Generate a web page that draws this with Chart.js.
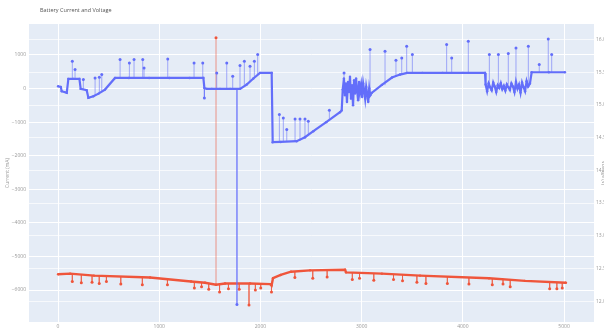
<!DOCTYPE html>
<html>
<head>
<meta charset="utf-8">
<script src="https://cdn.jsdelivr.net/npm/chart.js@4.4.1/dist/chart.umd.min.js"></script>
<style>
  html, body { margin: 0; padding: 0; background: #fff; }
  #wrap { width: 604px; height: 331px; }
</style>
</head>
<body>
<div id="wrap"><canvas id="batteryChart"></canvas></div>
<script>
// current trace (s, mA)
var currentTimes = [0, 27, 36, 86, 102, 150, 211, 224, 283, 300, 349, 400, 464, 563, 700, 900, 1100, 1300, 1436,
    1446, 1470, 1520, 1600, 1700, 1798, 1864, 1930, 1996, 2111, 2121, 2200, 2358, 2440, 2523, 2650, 2786, 2803,
    2813, 2825, 2835, 2845, 2855, 2865, 2875, 2885, 2895, 2905, 2915, 2925, 2935, 2945, 2955, 2965, 2975, 2985,
    2995, 3005, 3015, 3025, 3035, 3045, 3055, 3065, 3075, 3085, 3099, 3200, 3300, 3379, 3450, 3600, 3800, 4000,
    4219, 4225, 4240, 4255, 4270, 4285, 4300, 4315, 4330, 4345, 4360, 4375, 4390, 4405, 4420, 4435, 4450, 4465,
    4480, 4495, 4510, 4525, 4540, 4555, 4570, 4585, 4600, 4615, 4630, 4645, 4663, 4680, 4850, 5009];
var currentValues = [68, 50, -80, -129, 288, 288, 288, -10, -50, -278, -228, -150, -30, 317, 317, 317, 317, 317, 317,
    20, -10, -10, -10, -10, -10, 119, 300, 466, 466, -1597, -1590, -1567, -1450, -1270, -1000, -704, -650,
    -30, 300, -200, 150, -400, 200, -100, 350, -300, 100, -500, 250, -150, 300, -50, -350, 200, -100,
    100, -250, 150, -50, -300, 50, -150, -400, 0, -200, -129, 110, 330, 417, 466, 466, 466, 466,
    466, 119, -80, 150, 40, -50, 180, 60, -100, 100, 20, 160, -20, 80, -60, 120, 40, -40,
    150, 60, -100, 200, 0, 120, -120, 180, 40, -80, 220, 60, 150, 486, 486, 486];

// current spikes: time, level before spike, spike tip
var currentSpikeTimes = [141, 168, 250, 366, 408, 432, 613, 705, 751, 837, 850, 1084, 1344, 1430, 1446, 1568, 1667,
    1726, 1768, 1798, 1841, 1897, 1940, 1973, 2187, 2226, 2260, 2342, 2391, 2440, 2473, 2681, 2826, 3083, 3231,
    3339, 3396, 3445, 3501, 3840, 3890, 4054, 4262, 4351, 4449, 4525, 4647, 4755, 4844, 4878];
var currentSpikeBase = [288, 288, -10, -200, -120, -80, 317, 317, 317, 317, 317, 317, 317, 317, 20, -10, -10,
    -10, -10, -10, 60, 200, 320, 430, -1597, -1590, -1585, -1570, -1560, -1500, -1400, -900, -30, -100, 100,
    350, 440, 466, 466, 466, 466, 466, 119, 119, 119, 119, 119, 486, 486, 486];
var currentSpikeTip = [813, 565, 268, 317, 336, 417, 863, 765, 863, 863, 616, 884, 765, 765, -278, 466, 765,
    366, -6428, 684, 813, 664, 813, 1012, -774, -873, -1220, -903, -903, -903, -972, -645, 466, 1160, 1111,
    843, 913, 1260, 1012, 1309, 913, 1408, 1012, 1012, 1042, 1210, 1260, 714, 1478, 1012];

// voltage trace (s, V)
var voltageTimes = [0, 119, 356, 909, 1314, 1452, 1561, 1650, 1897, 2095, 2110, 2124, 2200, 2302, 2490, 2836,
    2846, 3200, 3577, 4258, 4614, 5019];
var voltageValues = [12.41, 12.42, 12.39, 12.36, 12.30, 12.28, 12.25, 12.27, 12.27, 12.26, 12.24, 12.35, 12.40,
    12.45, 12.47, 12.48, 12.44, 12.42, 12.39, 12.35, 12.31, 12.28];

var voltageSpikeTimes = [141, 230, 336, 407, 478, 620, 833, 1081, 1347, 1418, 1489, 1561, 1596, 1684, 1790, 1887,
    1950, 2003, 2109, 2340, 2517, 2659, 2908, 2979, 3120, 3315, 3404, 3546, 3635, 3847, 4060, 4291, 4397, 4468,
    4858, 4929, 4982];
var voltageSpikeBase = [12.41, 12.40, 12.39, 12.39, 12.38, 12.37, 12.36, 12.34, 12.30, 12.29, 12.27, 12.25, 12.26,
    12.27, 12.27, 12.27, 12.27, 12.27, 12.25, 12.46, 12.47, 12.48, 12.44, 12.44, 12.43, 12.41, 12.40, 12.39, 12.39,
    12.37, 12.36, 12.35, 12.34, 12.33, 12.29, 12.29, 12.28];
var voltageSpikeTip = [12.30, 12.28, 12.29, 12.27, 12.30, 12.26, 12.25, 12.25, 12.20, 12.22, 12.18, 16.03, 12.14,
    12.19, 12.18, 11.94, 12.17, 12.20, 12.14, 12.36, 12.35, 12.37, 12.33, 12.35, 12.32, 12.33, 12.31, 12.29, 12.27,
    12.27, 12.26, 12.25, 12.26, 12.22, 12.19, 12.19, 12.20];

var blue = "#636efa";
var red = "#EF553B";

function toPoints(xs, ys) {
    var pts = [];
    for (var i = 0; i < xs.length; i++) pts.push({x: xs[i], y: ys[i]});
    return pts;
}

function toSpikes(xs, base, tip) {
    var pts = [];
    for (var i = 0; i < xs.length; i++) {
        pts.push({x: xs[i], y: base[i]});
        pts.push({x: xs[i], y: tip[i], tip: true});
        pts.push({x: xs[i], y: null});
    }
    return pts;
}

function tipRadius(ctx) {
    return ctx.raw && ctx.raw.tip ? 1.5 : 0;
}

function minusSign(v) {
    return String(v).replace("-", "\u2212");
}

var tickFont = {family: "'Open Sans', sans-serif", size: 5};

// plot background, title and right axis title
var plotBackground = {
    id: "plotBackground",
    beforeDraw: function (chart) {
        var a = chart.chartArea;
        var c = chart.ctx;
        c.save();
        c.fillStyle = "#E5ECF6";
        c.fillRect(a.left, a.top, a.right - a.left, a.bottom - a.top);
        c.restore();
    },
    afterDraw: function (chart) {
        var a = chart.chartArea;
        var c = chart.ctx;
        c.save();
        c.fillStyle = "#555";
        c.font = "5.5px 'Open Sans', sans-serif";
        c.textBaseline = "middle";
        c.fillText("Battery Current and Voltage", 40, 10);
        c.fillStyle = "#999";
        c.font = "5px 'Open Sans', sans-serif";
        c.translate(603.5, (a.top + a.bottom) / 2);
        c.rotate(Math.PI / 2);
        c.textAlign = "center";
        c.fillText("Voltage (V)", 0, 0);
        c.restore();
    }
};

new Chart(document.getElementById("batteryChart").getContext("2d"), {
    type: "line",
    data: {
        datasets: [{
            label: "Current",
            data: toPoints(currentTimes, currentValues),
            yAxisID: "y",
            borderColor: blue,
            backgroundColor: blue,
            borderWidth: 2.2,
            pointRadius: 1.2,
            pointBorderWidth: 0,
            tension: 0
        }, {
            label: "Current spikes",
            data: toSpikes(currentSpikeTimes, currentSpikeBase, currentSpikeTip),
            yAxisID: "y",
            borderColor: "rgba(99,110,250,0.7)",
            backgroundColor: blue,
            borderWidth: 0.8,
            pointRadius: tipRadius,
            pointBorderWidth: 0,
            spanGaps: false
        }, {
            label: "Voltage",
            data: toPoints(voltageTimes, voltageValues),
            yAxisID: "y1",
            borderColor: red,
            backgroundColor: red,
            borderWidth: 2.4,
            pointRadius: 1.2,
            pointBorderWidth: 0,
            tension: 0
        }, {
            label: "Voltage spikes",
            data: toSpikes(voltageSpikeTimes, voltageSpikeBase, voltageSpikeTip),
            yAxisID: "y1",
            borderColor: "rgba(239,85,59,0.75)",
            backgroundColor: red,
            borderWidth: 0.8,
            pointRadius: tipRadius,
            pointBorderWidth: 0,
            spanGaps: false
        }]
    },
    options: {
        responsive: true,
        maintainAspectRatio: false,
        animation: false,
        layout: {padding: {top: 24, left: 0, right: 0, bottom: 0}},
        plugins: {
            legend: {display: false},
            tooltip: {enabled: false}
        },
        scales: {
            x: {
                type: "linear",
                min: -287,
                max: 5296,
                afterBuildTicks: function (scale) {
                    scale.ticks = [0, 1000, 2000, 3000, 4000, 5000].map(function (v) { return {value: v}; });
                },
                afterFit: function (scale) { scale.height = 9; },
                grid: {color: "#ffffff", lineWidth: 1, drawTicks: false},
                border: {display: false},
                ticks: {font: tickFont, color: "#999", padding: 2, maxRotation: 0,
                    callback: function (v) { return minusSign(v); }}
            },
            y: {
                type: "linear",
                position: "left",
                min: -6952,
                max: 1923,
                afterBuildTicks: function (scale) {
                    scale.ticks = [1000, 0, -1000, -2000, -3000, -4000, -5000, -6000].map(function (v) { return {value: v}; });
                },
                afterFit: function (scale) { scale.width = 29; },
                grid: {color: "#ffffff", lineWidth: 1, drawTicks: false},
                border: {display: false},
                title: {display: true, text: "Current (mA)", color: "#999",
                    font: {family: "'Open Sans', sans-serif", size: 5}, padding: 5},
                ticks: {font: tickFont, color: "#999", padding: 3,
                    callback: function (v) { return minusSign(v); }}
            },
            y1: {
                type: "linear",
                position: "right",
                min: 11.68,
                max: 16.24,
                afterBuildTicks: function (scale) {
                    scale.ticks = [16, 15.5, 15, 14.5, 14, 13.5, 13, 12.5, 12].map(function (v) { return {value: v}; });
                },
                afterFit: function (scale) { scale.width = 10; },
                grid: {color: "rgba(255,255,255,0.7)", lineWidth: 1, drawTicks: false},
                border: {display: false},
                ticks: {font: tickFont, color: "#999", padding: 2}
            }
        }
    },
    plugins: [plotBackground]
});
</script>
</body>
</html>
